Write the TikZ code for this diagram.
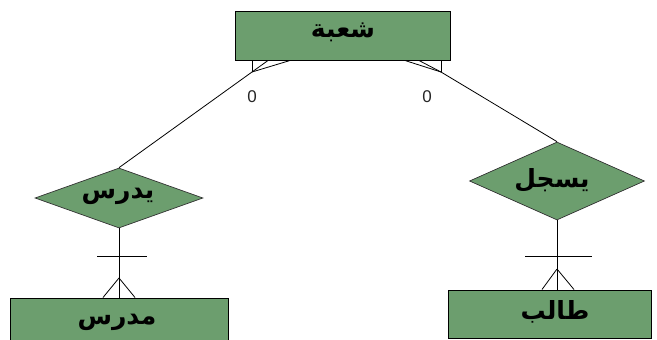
\documentclass[tikz,border=0pt]{standalone}
\usepackage{fontspec}
\setmainfont{Liberation Sans}
\newfontfamily\arabicfont[Script=Arabic]{DejaVu Sans}
\TeXXeTstate=1
\usetikzlibrary{shapes.geometric}
\definecolor{erfill}{RGB}{108,158,110}
\tikzset{
  entity/.style={draw=black, fill=erfill, line width=1pt, rectangle, inner sep=0pt},
  relation/.style={draw=black!80, fill=erfill, line width=0.7pt, diamond, inner sep=0pt},
  link/.style={draw=black, line width=0.8pt},
  artxt/.style={font=\arabicfont\bfseries\fontsize{25}{28}\selectfont},
  card/.style={font=\fontsize{17}{19}\selectfont, text=black!85}
}
\begin{document}
\begin{tikzpicture}[x=1pt,y=-1pt]
\useasboundingbox (0,0) rectangle (657,340);
% entities
\node[entity, minimum width=215pt, minimum height=49pt] (T) at (342.5,35.5) {};
\node[artxt] (Tt) at (343,32) {\beginR شعبة\endR};
\node[entity, minimum width=218pt, minimum height=52pt] (E1) at (119,324) {};
\node[artxt] (E1t) at (117,322) {\beginR مدرس\endR};
\node[entity, minimum width=203pt, minimum height=48pt] (E2) at (549.5,314) {};
\node[artxt] (E2t) at (555,312) {\beginR طالب\endR};
% relationships
\node[relation, minimum width=168pt, minimum height=60pt, aspect=2.8] (D1) at (119,198) {};
\node[artxt] (D1t) at (118,196) {\beginR يدرس\endR};
\node[relation, minimum width=175pt, minimum height=78pt, aspect=2.24] (D2) at (557,181) {};
\node[artxt] (D2t) at (552,180) {\beginR يسجل\endR};
% top crow's feet
\coordinate (A1) at (252,72);
\coordinate (A2) at (441,72);
\draw[link] (D1.north) -- (A1);
\draw[link] (A1) -- (A1 |- T.south);
\draw[link] (A1) -- ([xshift=-74.5pt]T.south);
\draw[link] (A1) -- ([xshift=-52.5pt]T.south);
\draw[link] (D2.north) -- (A2);
\draw[link] (A2) -- (A2 |- T.south);
\draw[link] (A2) -- ([xshift=76.5pt]T.south);
\draw[link] (A2) -- ([xshift=62.5pt]T.south);
\node[card] (c1) at (252,97) {0};
\node[card] (c2) at (427,97) {0};
% bottom left
\coordinate (B1) at (119,278);
\draw[link] (D1.south) -- (D1.south |- E1.north);
\draw[link] (97,256) -- (147,256);
\draw[link] (B1) -- ([xshift=-16pt]B1 |- E1.north);
\draw[link] (B1) -- ([xshift=16pt]B1 |- E1.north);
% bottom right
\coordinate (B2) at (557,269);
\draw[link] (D2.south) -- (D2.south |- E2.north);
\draw[link] (525,256) -- (592,256);
\draw[link] (B2) -- ([xshift=-15pt]B2 |- E2.north);
\draw[link] (B2) -- ([xshift=17pt]B2 |- E2.north);
\end{tikzpicture}
\end{document}
